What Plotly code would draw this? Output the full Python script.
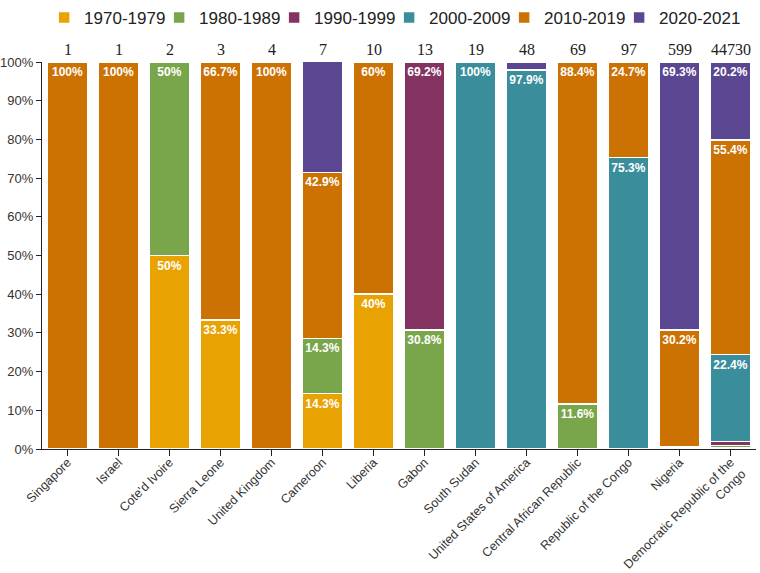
import plotly.graph_objects as go

countries = ["Singapore", "Israel", "Cote'd Ivoire", "Sierra Leone", "United Kingdom",
             "Cameroon", "Liberia", "Gabon", "South Sudan", "United States of America",
             "Central African Republic", "Republic of the Congo", "Nigeria",
             "Democratic Republic of the<br>Congo"]
totals = [1, 1, 2, 3, 4, 7, 10, 13, 19, 48, 69, 97, 599, 44730]

p1970 = [0, 0, 50, 33.3, 0, 14.3, 40, 0, 0, 0, 0, 0, 0.5, 0.3]
p1980 = [0, 0, 50, 0, 0, 14.3, 0, 30.8, 0, 0, 11.6, 0, 0, 0.6]
p1990 = [0, 0, 0, 0, 0, 0, 0, 69.2, 0, 0, 0, 0, 0, 1.1]
p2000 = [0, 0, 0, 0, 0, 0, 0, 0, 100, 97.9, 0, 75.3, 0, 22.4]
p2010 = [100, 100, 0, 66.7, 100, 42.9, 60, 0, 0, 0, 88.4, 24.7, 30.2, 55.4]
p2020 = [0, 0, 0, 0, 0, 28.6, 0, 0, 0, 2.1, 0, 0, 69.3, 20.2]

ytick_vals = [0, 10, 20, 30, 40, 50, 60, 70, 80, 90, 100]
ytick_text = [f"{v}%" for v in ytick_vals]

series = [
    ("1970-1979", p1970, "#E8A202"),
    ("1980-1989", p1980, "#7AA64B"),
    ("1990-1999", p1990, "#843262"),
    ("2000-2009", p2000, "#3A8E9C"),
    ("2010-2019", p2010, "#CC7203"),
    ("2020-2021", p2020, "#5B4691"),
]

fig = go.Figure()
for name, vals, color in series:
    labels = [f"{v:g}%" if v >= 5 else "" for v in vals]
    fig.add_trace(go.Bar(
        name=name, x=countries, y=vals, marker=dict(color=color, line=dict(color="white", width=1.5)),
        text=labels, textposition="inside", insidetextanchor="end",
        textfont=dict(color="white", size=12, family="Liberation Sans, Arial, sans-serif", weight="bold"),
        constraintext="none", cliponaxis=False,
    ))

for c, t in zip(countries, totals):
    fig.add_annotation(x=c, y=100, yref="y", text=str(t), showarrow=False, yanchor="bottom",
                       yshift=2, font=dict(family="Liberation Serif, Times New Roman, serif", size=16, color="#222"))

fig.update_layout(
    width=760, height=573, barmode="stack", bargap=0.2,
    paper_bgcolor="white", plot_bgcolor="white",
    margin=dict(l=42, r=4, t=62, b=124, autoexpand=False),
    legend=dict(orientation="h", x=0.512, xanchor="center", xref="container", y=1.0, yref="container", yanchor="top",
                font=dict(family="Liberation Sans, Arial, sans-serif", size=17, color="#222"),
                itemwidth=30, entrywidth=70, traceorder="normal", bgcolor="rgba(0,0,0,0)"),
    showlegend=True,
)
fig.update_yaxes(range=[0, 100], tickvals=ytick_vals, ticktext=ytick_text, automargin=False,
                 showgrid=False, zeroline=False, showline=True, linecolor="#222",
                 linewidth=1.2, ticks="outside", ticklen=5, tickcolor="#222",
                 tickfont=dict(family="Liberation Sans, Arial, sans-serif", size=13, color="#333"))
fig.update_xaxes(tickangle=-45, showgrid=False, showline=True, linecolor="#222", linewidth=1.2,
                 ticks="outside", ticklen=6, tickcolor="#222", automargin=False, ticklabelstandoff=-6,
                 tickfont=dict(family="Liberation Sans, Arial, sans-serif", size=12.5, color="#333"))

post = """
document.body.style.margin='0';document.body.style.overflow='hidden';
var gd=document.getElementById('{plot_id}');
function unclip(){document.querySelectorAll('.legend .scrollbox').forEach(function(e){e.removeAttribute('clip-path');});}
unclip(); if(gd && gd.on){gd.on('plotly_afterplot', unclip);} setTimeout(unclip, 100); setTimeout(unclip, 500);
"""
fig.write_html("out.html", config={"displayModeBar": False}, post_script=post)
